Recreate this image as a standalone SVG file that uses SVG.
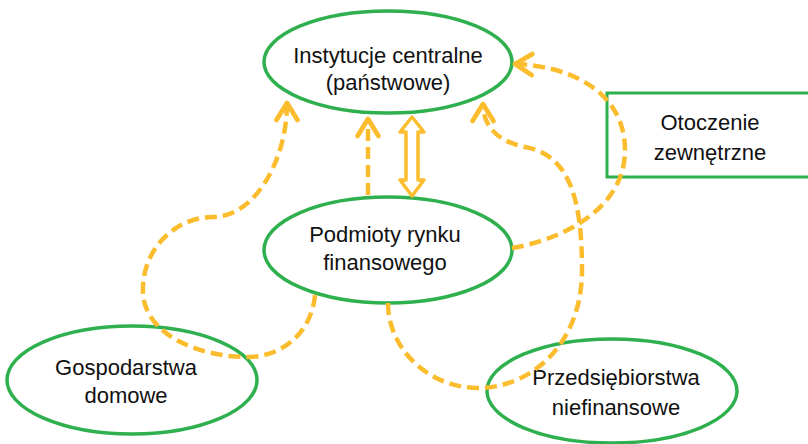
<svg xmlns="http://www.w3.org/2000/svg" width="808" height="444" viewBox="0 0 808 444">
<style>
.node{fill:#fff;stroke:#2fb04e;stroke-width:3.5}
.lbl{font-family:"Liberation Sans",Arial,sans-serif;font-size:22px;fill:#111;text-anchor:middle}
.dash{fill:none;stroke:#fbbd2e;stroke-width:4.5;stroke-dasharray:12 6;marker-end:url(#chev)}
</style>
<defs>
<marker id="chev" markerUnits="userSpaceOnUse" viewBox="-22 -14 26 28" markerWidth="26" markerHeight="28" refX="0" refY="0" orient="auto" overflow="visible">
<path d="M-17,-10.5 L0,0 L-17,10.5" fill="none" stroke="#fbbd2e" stroke-width="4.8" stroke-linecap="round" stroke-linejoin="round"/>
</marker>
</defs>
<rect x="0" y="0" width="808" height="444" fill="#fff"/>
<g id="n-instytucje">
<ellipse class="node" cx="388" cy="62" rx="124" ry="51"/>
<text class="lbl" x="388" y="63">Instytucje centralne</text>
<text class="lbl" x="388" y="90">(państwowe)</text>
</g>
<g id="n-podmioty">
<ellipse class="node" cx="388" cy="250" rx="124" ry="53"/>
<text class="lbl" x="385" y="242">Podmioty rynku</text>
<text class="lbl" x="385" y="270">finansowego</text>
</g>
<g id="n-gospodarstwa">
<ellipse class="node" cx="132" cy="380" rx="125" ry="54"/>
<text class="lbl" x="126" y="375">Gospodarstwa</text>
<text class="lbl" x="126" y="403">domowe</text>
</g>
<g id="n-przedsiebiorstwa">
<ellipse class="node" cx="612" cy="391" rx="125" ry="52"/>
<text class="lbl" x="616" y="385">Przedsiębiorstwa</text>
<text class="lbl" x="616" y="415">niefinansowe</text>
</g>
<g id="n-otoczenie">
<rect x="607" y="93" width="210" height="84" fill="#fff" stroke="#2fb04e" stroke-width="3"/>
<text class="lbl" x="710" y="130">Otoczenie</text>
<text class="lbl" x="710" y="160">zewnętrzne</text>
</g>
<g id="connectors">
<path class="dash" d="M368,195 L368,119"/>
<polygon points="412,117 424,132 418,132 418,180 424,180 412,196 400,180 406,180 406,132 400,132" fill="#fff" stroke="#fbbd2e" stroke-width="3.5" stroke-linejoin="round"/>
<path class="dash" d="M315,295 C312,330 285,357 247,357 C200,357 145,335 143,293 C141,250 175,217 213,217 C255,217 287,160 287,103"/>
<path class="dash" d="M388,303 C388,350 430,388 478,388 C530,388 582,345 582,270 C582,200 570,155 525,147 C500,142 483,128 483,104"/>
<path class="dash" d="M512,248 C560,240 625,210 625,150 C625,95 575,66 515,64"/>
</g>
</svg>
